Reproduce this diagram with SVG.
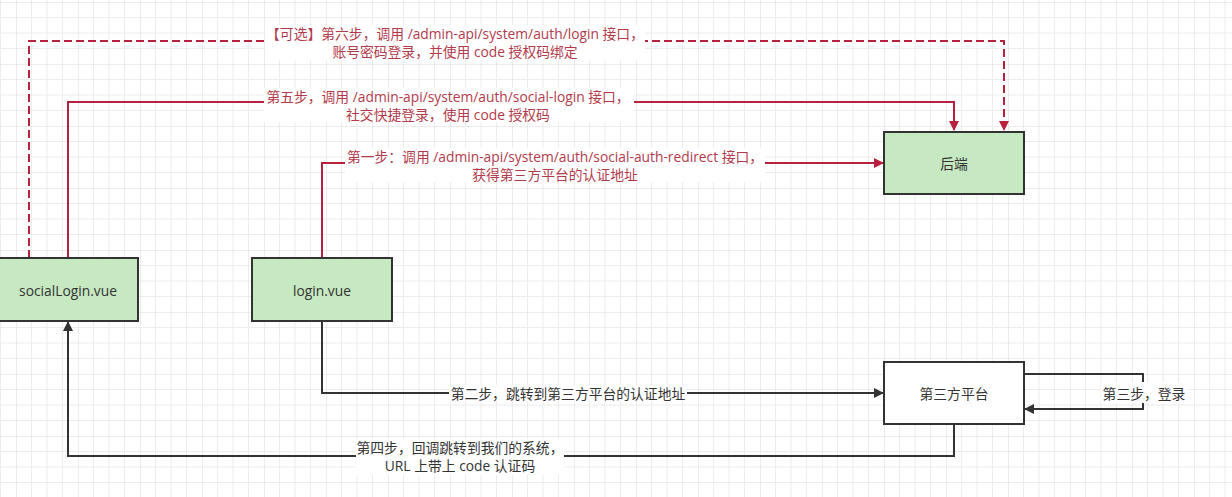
<svg xmlns="http://www.w3.org/2000/svg" width="1232" height="497" viewBox="0 0 1232 497">
<style>
.node rect{stroke:#333;stroke-width:2}
.green{fill:#c6e9c2}
.white{fill:#fff}
.lbl{font-family:"Open Sans","Noto Sans CJK SC",sans-serif;font-size:13.8px;text-anchor:middle;dominant-baseline:central}
.ntxt{fill:#333}
.rtxt{fill:#b23a4c}
.ktxt{fill:#333}
.red{fill:none;stroke:#b7213e;stroke-width:2}
.dash{stroke-dasharray:8 4}
.blk{fill:none;stroke:#333;stroke-width:2}
.bg{fill:#fff}
</style>
<defs>
<pattern id="grid" x="16" y="2" width="62" height="62" patternUnits="userSpaceOnUse">
<path d="M0 0V62M15.5 0V62M31 0V62M46.5 0V62M0 0H62M0 15.5H62M0 31H62M0 46.5H62" stroke="#ececec" stroke-width="1" fill="none"/>
<path d="M0 0V62M0 0H62" stroke="#e2e2e2" stroke-width="1" fill="none"/>
</pattern>
<marker id="arrR" markerWidth="10" markerHeight="10" refX="9" refY="5" orient="auto" markerUnits="userSpaceOnUse">
<path d="M0 0L10 5L0 10Z" fill="#b7213e"/>
</marker>
<marker id="arrK" markerWidth="10" markerHeight="10" refX="9" refY="5" orient="auto" markerUnits="userSpaceOnUse">
<path d="M0 0L10 5L0 10Z" fill="#333"/>
</marker>
</defs>
<rect width="1232" height="497" fill="#fff"/>
<rect width="1232" height="497" fill="url(#grid)"/>

<g id="connectors">
<path class="red dash" d="M29 258V41H1004V130" marker-end="url(#arrR)"/>
<path class="red" d="M68 258V102H954V130" marker-end="url(#arrR)"/>
<path class="red" d="M322 258V163H883" marker-end="url(#arrR)"/>
<path class="blk" d="M322 321V393H883" marker-end="url(#arrK)"/>
<path class="blk" d="M1024 374H1143V409H1025" marker-end="url(#arrK)"/>
<path class="blk" d="M954 424V456H68V322" marker-end="url(#arrK)"/>

<g id="label-step6">
<rect class="bg" x="265" y="25" width="380" height="35"/>
<text class="lbl rtxt" x="455" y="33">【可选】第六步，调用 /admin-api/system/auth/login 接口，</text>
<text class="lbl rtxt" x="455" y="51">账号密码登录，并使用 code 授权码绑定</text>
</g>
<g id="label-step5">
<rect class="bg" x="264" y="88" width="370" height="34"/>
<text class="lbl rtxt" x="448" y="96">第五步，调用 /admin-api/system/auth/social-login 接口，</text>
<text class="lbl rtxt" x="448" y="114">社交快捷登录，使用 code 授权码</text>
</g>
<g id="label-step1">
<rect class="bg" x="345" y="148" width="420" height="34"/>
<text class="lbl rtxt" x="555" y="156">第一步：调用 /admin-api/system/auth/social-auth-redirect 接口，</text>
<text class="lbl rtxt" x="555" y="174">获得第三方平台的认证地址</text>
</g>
<g id="label-step2">
<rect class="bg" x="449" y="385" width="238" height="16"/>
<text class="lbl ktxt" x="568" y="393">第二步，跳转到第三方平台的认证地址</text>
</g>
<g id="label-step3">
<rect class="bg" x="1101" y="382" width="86" height="21"/>
<text class="lbl ktxt" x="1144" y="393">第三步，登录</text>
</g>
<g id="label-step4">
<rect class="bg" x="356" y="439" width="208" height="36"/>
<text class="lbl ktxt" x="460" y="447">第四步，回调跳转到我们的系统，</text>
<text class="lbl ktxt" x="460" y="465">URL 上带上 code 认证码</text>
</g>
</g>

<g id="node-backend" class="node">
<rect class="green" x="884" y="132" width="140" height="62"/>
<text class="lbl ntxt" x="954" y="163">后端</text>
</g>
<g id="node-sociallogin" class="node">
<rect class="green" x="-2" y="258" width="140" height="63"/>
<text class="lbl ntxt" x="68" y="290">socialLogin.vue</text>
</g>
<g id="node-login" class="node">
<rect class="green" x="252" y="258" width="140" height="63"/>
<text class="lbl ntxt" x="322" y="290">login.vue</text>
</g>
<g id="node-thirdparty" class="node">
<rect class="white" x="884" y="362" width="140" height="62"/>
<text class="lbl ntxt" x="954" y="393">第三方平台</text>
</g>
</svg>
